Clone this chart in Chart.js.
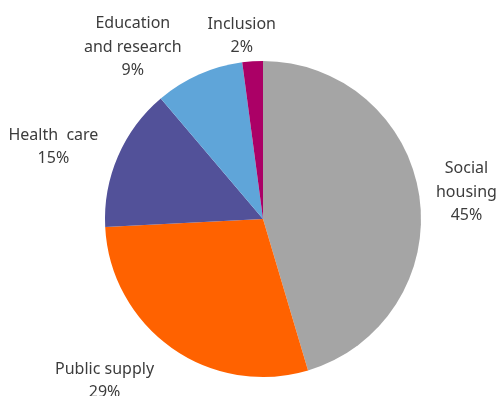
<!DOCTYPE html>
<html>
<head>
<meta charset="utf-8">
<script src="https://cdn.jsdelivr.net/npm/chart.js@4.4.1/dist/chart.umd.min.js"></script>
<style>
  html, body { margin: 0; padding: 0; background: #ffffff; }
  #wrap { width: 498px; height: 396px; position: relative; }
</style>
</head>
<body>
<div id="wrap"><canvas id="pie"></canvas></div>
<script>
const categories = ['Social|housing', 'Public supply', 'Health  care', 'Education|and research', 'Inclusion'];
const shares = [45.4, 28.8, 14.6, 9.1, 2.1];
const sliceColors = ['#a5a5a5', '#ff6200', '#525199', '#5fa5d9', '#ab0066'];

// nudges so the labels sit where the original put them
const labelNudge = [[9, 2], [-34, 7], [-16, 3], [-43, 12], [-8, 6]];

const outsideLabels = {
  id: 'outsideLabels',
  afterDatasetsDraw(chart) {
    const ctx = chart.ctx;
    const meta = chart.getDatasetMeta(0);
    const lineH = 23.5;
    ctx.save();
    ctx.font = '16px "Noto Sans", sans-serif';
    ctx.fillStyle = '#3c3c3c';
    ctx.textAlign = 'center';
    ctx.textBaseline = 'middle';
    meta.data.forEach((arc, i) => {
      const lines = categories[i].split('|').concat([Math.round(shares[i]) + '%']);
      const mid = (arc.startAngle + arc.endAngle) / 2;
      const r = arc.outerRadius + 8;
      const ax = arc.x + Math.cos(mid) * r;
      const ay = arc.y + Math.sin(mid) * r;
      const w = Math.max(...lines.map(l => ctx.measureText(l).width));
      const h = lines.length * lineH;
      const cx = ax + Math.cos(mid) * w / 2 + labelNudge[i][0];
      const cy = ay + Math.sin(mid) * h / 2 + labelNudge[i][1];
      lines.forEach((l, k) => {
        ctx.fillText(l, cx, cy - h / 2 + lineH / 2 + k * lineH);
      });
    });
    ctx.restore();
  }
};

new Chart(document.getElementById('pie'), {
  type: 'pie',
  data: {
    labels: categories.map(c => c.replace('|', ' ')),
    datasets: [{
      data: shares,
      backgroundColor: sliceColors,
      borderWidth: 0
    }]
  },
  options: {
    responsive: true,
    maintainAspectRatio: false,
    animation: false,
    layout: { padding: { top: 61, bottom: 19, left: 105, right: 77 } },
    plugins: {
      legend: { display: false },
      tooltip: { enabled: false }
    }
  },
  plugins: [outsideLabels]
});
</script>
</body>
</html>
